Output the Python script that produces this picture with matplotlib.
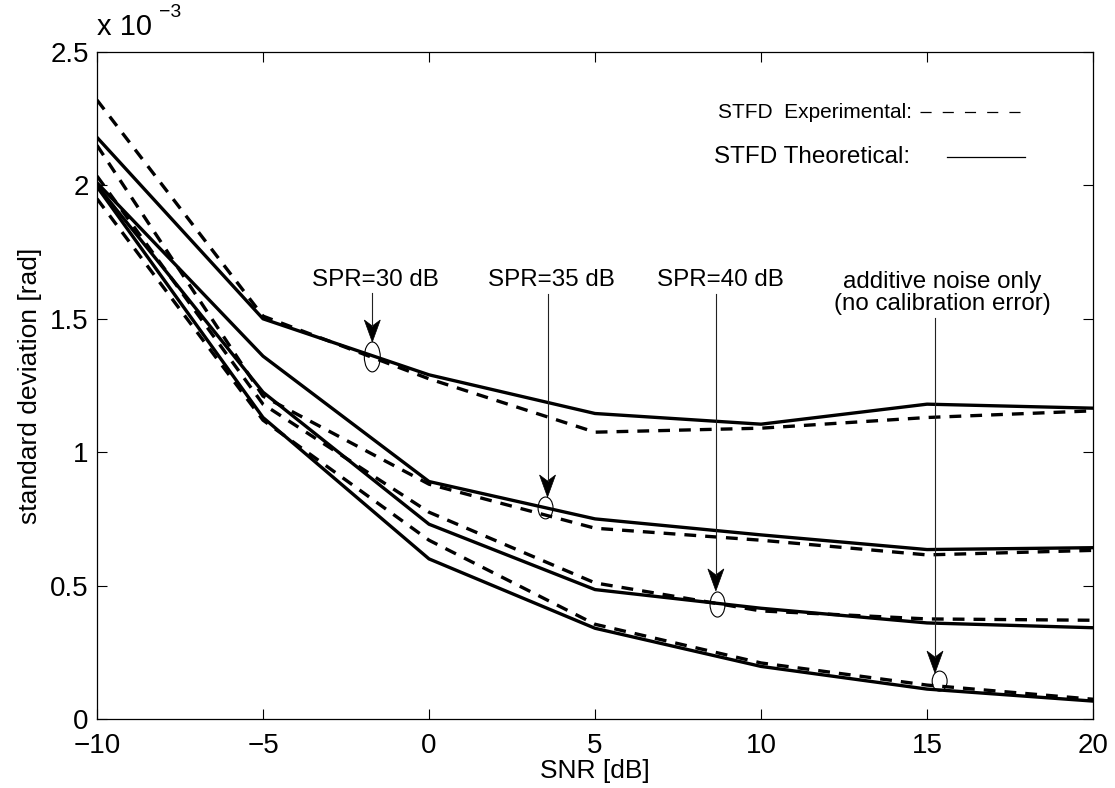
import matplotlib
matplotlib.use("Agg")
import matplotlib.pyplot as plt
import matplotlib.transforms as mtrans
from matplotlib.patches import Ellipse, Polygon

plt.rcParams['font.family'] = ['Liberation Sans', 'DejaVu Sans']
plt.rcParams['lines.scale_dashes'] = False

# SNR axis and standard deviation values (in units of 1e-3 rad)
snr = [-10, -5, 0, 5, 10, 15, 20]
theo_30 = [2.18, 1.50, 1.29, 1.145, 1.105, 1.18, 1.165]
exp_30 = [2.32, 1.51, 1.275, 1.075, 1.09, 1.13, 1.155]
theo_35 = [2.01, 1.36, 0.89, 0.75, 0.69, 0.635, 0.642]
exp_35 = [2.15, 1.21, 0.88, 0.715, 0.67, 0.615, 0.632]
theo_40 = [2.0, 1.225, 0.73, 0.485, 0.415, 0.36, 0.342]
exp_40 = [2.035, 1.18, 0.775, 0.51, 0.405, 0.375, 0.37]
theo_noise = [1.995, 1.13, 0.60, 0.34, 0.197, 0.112, 0.067]
exp_noise = [1.95, 1.12, 0.67, 0.355, 0.21, 0.127, 0.074]

xticks = [-10, -5, 0, 5, 10, 15, 20]
yticks = [0, 0.5, 1, 1.5, 2, 2.5]
ytick_labels = ['0', '0.5', '1', '1.5', '2', '2.5']

fig = plt.figure(figsize=(11.15, 7.88), dpi=100)
ax = fig.add_axes([0.087, 0.0876, 0.8933, 0.8464])

lw = 2.4
for th, ex in [(theo_30, exp_30), (theo_35, exp_35),
               (theo_40, exp_40), (theo_noise, exp_noise)]:
    ax.plot(snr, th, color='black', lw=lw, solid_joinstyle='round')
    ax.plot(snr, ex, color='black', lw=lw, dashes=(8.5, 6.5),
            dash_capstyle='butt')

ax.set_xlim(-10, 20)
ax.set_ylim(0, 2.5)
ax.set_xticks(xticks)
ax.set_yticks(yticks)
ax.set_yticklabels(ytick_labels)
ax.tick_params(direction='in', length=7, width=0.8, labelsize=20,
               top=True, right=True)
ax.tick_params(axis='x', pad=10)
ax.tick_params(axis='y', pad=6)
for s in ax.spines.values():
    s.set_linewidth(0.9)

ax.set_xlabel('SNR [dB]', fontsize=19, labelpad=0)
ax.set_ylabel('standard deviation [rad]', fontsize=19, labelpad=6)

# exponent label
fig.text(0.087, 0.955, 'x 10', fontsize=21, ha='left', va='baseline')
fig.text(0.1425, 0.978, '\u22123', fontsize=14, ha='left', va='baseline')

# legend-like texts
ax.text(14.55, 2.275, 'STFD  Experimental:', fontsize=15, ha='right', va='center')
ax.plot([14.79, 17.95], [2.275, 2.275], color='black', lw=0.9, dashes=(8, 8))
ax.text(14.49, 2.107, 'STFD Theoretical:', fontsize=17.5, ha='right', va='center')
ax.plot([15.59, 17.95], [2.107, 2.107], color='black', lw=0.9)

# arrowhead shape (inches, tip at origin), notched like MATLAB arrows
head = [(0, 0), (-0.08, 0.22), (0, 0.16), (0.08, 0.22)]

# annotations: (text, text x, text y, line x, line start y, tip y, ellipse center, w, h)
ann = [
    ('SPR=30 dB', -1.6, 1.645, -1.708, 1.597, 1.413, (-1.708, 1.357), 0.48, 0.112),
    ('SPR=35 dB', 3.69, 1.645, 3.57, 1.594, 0.832, (3.51, 0.791), 0.45, 0.082),
    ('SPR=40 dB', 8.77, 1.645, 8.64, 1.594, 0.48, (8.69, 0.429), 0.45, 0.094),
    ('additive noise only\n(no calibration error)', 15.45, 1.596, 15.24, 1.503,
     0.172, (15.38, 0.142), 0.45, 0.075),
]
for label, tx, ty, lx, ly0, ly1, c, w, h in ann:
    ax.text(tx, ty, label, fontsize=17.4, ha='center', va='center',
            linespacing=1.0)
    ax.plot([lx, lx], [ly0, ly1 + 0.06], color='#222222', lw=0.8)
    tr = fig.dpi_scale_trans + mtrans.ScaledTranslation(lx, ly1, ax.transData)
    ax.add_patch(Polygon(head, closed=True, facecolor='black',
                         edgecolor='black', lw=0.5, transform=tr))
    ax.add_patch(Ellipse(c, w, h, fill=False, lw=0.8, edgecolor='black'))

fig.savefig('out.png', dpi=100)
